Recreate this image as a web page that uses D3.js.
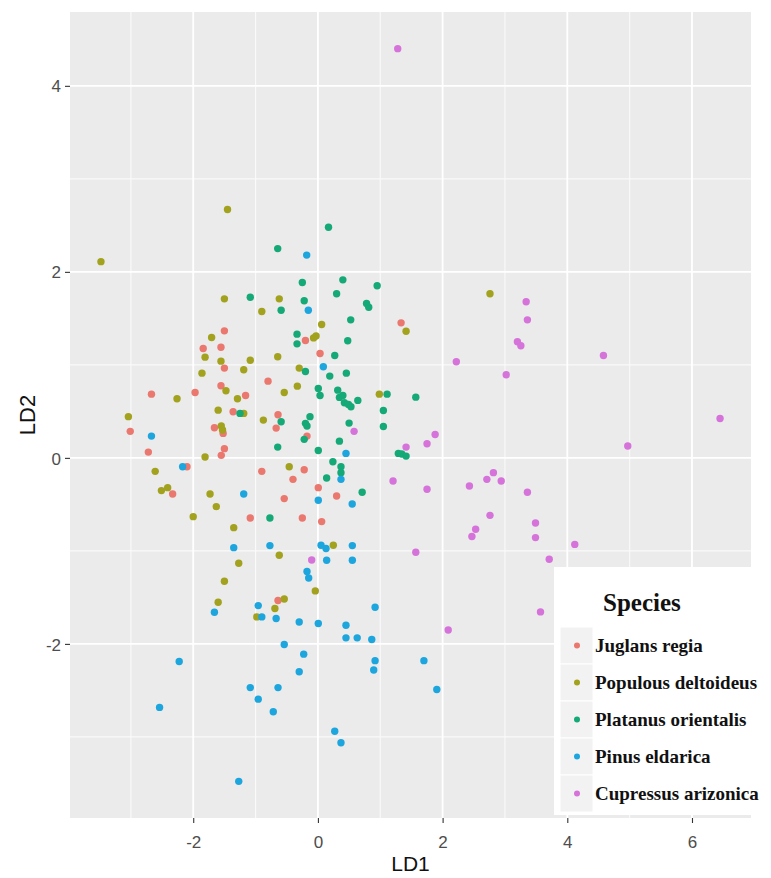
<!DOCTYPE html>
<html>
<head>
<meta charset="utf-8">
<script src="https://cdn.jsdelivr.net/npm/d3@7"></script>
<style>
  html, body { margin: 0; padding: 0; background: #ffffff; }
  svg { display: block; }
</style>
</head>
<body>
<div id="chart"></div>
<script>
// ---------------- data (LD1, LD2) ----------------
const species = ["Juglans regia", "Populous deltoideus", "Platanus orientalis", "Pinus eldarica", "Cupressus arizonica"];
const colors = ["#EA786F", "#A2A21E", "#15A977", "#1DA6DE", "#D673DA"];

const juglansLD1 = [-1.50,-1.84,-1.555,-1.50,-0.20,0.034,1.334,-0.80,-1.555,-1.97,-2.67,-1.16,-1.36,-3.01,-2.72,-1.66,-1.52,-1.50,-1.55,-0.64,-0.67,-0.175,-2.10,-2.33,-1.085,-0.25,-0.90,-0.22,-0.40,-0.54,0.006,0.30,0.06,-0.64];
const juglansLD2 = [1.366,1.176,1.19,0.965,1.262,1.122,1.452,0.825,0.775,0.703,0.685,0.671,0.496,0.285,0.062,0.324,0.263,0.099,0.027,0.464,0.32,0.234,-0.095,-0.389,-0.647,-0.647,-0.145,-0.127,-0.231,-0.438,-0.32,-0.41,-0.685,-1.534];

const populusLD1 = [-3.48,-1.45,-1.50,-0.62,-0.90,-1.705,-1.81,-1.555,-1.085,-0.645,-1.86,-1.19,-0.07,-0.03,0.06,-0.30,-0.33,-0.54,-1.475,-2.26,-1.29,-1.60,-1.19,-3.04,-1.55,-1.53,-1.81,-0.875,1.414,2.76,0.985,-2.61,-2.51,-2.41,-1.73,-1.63,-2.0,-1.35,-0.46,-0.62,-1.27,-1.50,-0.042,-1.60,-0.54,-0.69,-0.98,0.247];
const populusLD2 = [2.11,2.67,1.71,1.71,1.574,1.294,1.083,1.04,1.05,1.087,0.911,0.947,1.29,1.31,1.434,0.965,0.771,0.703,0.722,0.636,0.636,0.513,0.478,0.443,0.342,0.30,0.009,0.406,1.362,1.764,0.685,-0.145,-0.352,-0.32,-0.389,-0.524,-0.632,-0.75,-0.095,-1.047,-1.133,-1.327,-1.43,-1.552,-1.517,-1.62,-1.71,-0.94];

const platanusLD1 = [-0.645,0.17,0.40,-1.085,-0.59,-0.25,-0.22,-0.335,-0.335,-0.20,-1.25,-0.59,-0.645,-0.127,-0.20,-0.175,-0.22,0.006,-0.77,0.95,0.30,0.78,0.815,0.526,0.478,0.27,0.19,0.456,0.006,0.034,0.318,0.345,0.40,0.425,0.49,0.53,0.64,1.11,1.57,1.05,1.05,0.50,0.345,1.29,1.345,1.414,0.24,0.37,0.37,0.14,0.71];
const platanusLD2 = [2.25,2.48,1.914,1.727,1.588,1.885,1.69,1.33,1.226,0.929,0.478,0.389,0.116,0.443,0.371,0.342,0.199,0.08,-0.647,1.85,1.764,1.66,1.62,1.484,1.259,1.10,0.879,0.911,0.746,0.671,0.728,0.65,0.671,0.593,0.575,0.55,0.618,0.685,0.653,0.51,0.338,0.374,0.18,0.048,0.041,0.019,-0.041,-0.095,-0.159,-0.217,-0.37];

const pinusLD1 = [-0.18,-0.154,0.087,-2.67,-2.17,-1.19,0.006,0.45,0.37,0.55,-1.35,-0.77,0.05,0.13,0.552,0.14,0.552,-0.175,-0.148,-1.66,-0.957,-0.90,-0.67,-0.30,0.006,-0.54,-0.228,-0.30,-2.225,-1.085,-0.64,-0.957,-0.716,-2.54,-1.27,0.917,0.45,0.45,0.63,0.864,0.917,0.895,1.70,1.907,0.27,0.37];
const pinusLD2 = [2.18,1.588,0.98,0.234,-0.095,-0.389,-0.456,0.048,-0.231,-0.496,-0.965,-0.943,-0.94,-0.975,-0.943,-1.10,-1.10,-1.222,-1.291,-1.66,-1.588,-1.71,-1.727,-1.764,-1.78,-2.006,-2.11,-2.30,-2.19,-2.47,-2.47,-2.594,-2.73,-2.683,-3.478,-1.606,-1.80,-1.935,-1.935,-1.953,-2.18,-2.28,-2.18,-2.49,-2.94,-3.063];

const cupressusLD1 = [1.28,3.34,3.36,3.20,3.255,2.22,3.02,0.58,1.88,1.75,1.414,1.205,1.75,2.43,2.71,2.815,2.94,3.36,2.76,3.49,2.53,2.47,3.49,4.58,6.45,4.97,4.12,3.71,-0.10,1.57,3.57,2.09];
const cupressusLD2 = [4.40,1.678,1.484,1.248,1.205,1.033,0.894,0.285,0.252,0.152,0.116,-0.249,-0.338,-0.303,-0.231,-0.159,-0.249,-0.37,-0.618,-0.70,-0.768,-0.846,-0.857,1.10,0.424,0.127,-0.93,-1.09,-1.098,-1.015,-1.656,-1.85];

const xTicks = [-2, 0, 2, 4, 6];
const yTicks = [-2, 0, 2, 4];
const xTitle = "LD1", yTitle = "LD2", legendTitle = "Species";

// ---------------- build ----------------
const seriesLD1 = [juglansLD1, populusLD1, platanusLD1, pinusLD1, cupressusLD1];
const seriesLD2 = [juglansLD2, populusLD2, platanusLD2, pinusLD2, cupressusLD2];
const points = [];
species.forEach((s, i) => seriesLD1[i].forEach((v, j) => points.push({sp: i, x: v, y: seriesLD2[i][j]})));

const W = 771, H = 878;
const panel = {left: 70, right: 751, top: 12, bottom: 818};

function expand(ext) { const d = (ext[1] - ext[0]) * 0.05; return [ext[0] - d, ext[1] + d]; }
const x = d3.scaleLinear().domain(expand(d3.extent(points, d => d.x))).range([panel.left, panel.right]);
const y = d3.scaleLinear().domain(expand(d3.extent(points, d => d.y))).range([panel.bottom, panel.top]);

const svg = d3.select("#chart").append("svg").attr("width", W).attr("height", H);
svg.append("rect").attr("width", W).attr("height", H).attr("fill", "#ffffff");

svg.append("rect")
  .attr("x", panel.left).attr("y", panel.top)
  .attr("width", panel.right - panel.left).attr("height", panel.bottom - panel.top)
  .attr("fill", "#EBEBEB");

// grid
const xMinor = d3.range(-3, 7, 2), yMinor = d3.range(-3, 5, 2);
const grid = svg.append("g");
grid.selectAll(".xm").data(xMinor).join("line")
  .attr("x1", d => x(d)).attr("x2", d => x(d)).attr("y1", panel.top).attr("y2", panel.bottom)
  .attr("stroke", "#fafafa").attr("stroke-width", 1.1);
grid.selectAll(".ym").data(yMinor).join("line")
  .attr("y1", d => y(d)).attr("y2", d => y(d)).attr("x1", panel.left).attr("x2", panel.right)
  .attr("stroke", "#fafafa").attr("stroke-width", 1.1);
grid.selectAll(".xM").data(xTicks).join("line")
  .attr("x1", d => x(d)).attr("x2", d => x(d)).attr("y1", panel.top).attr("y2", panel.bottom)
  .attr("stroke", "#ffffff").attr("stroke-width", 1.8);
grid.selectAll(".yM").data(yTicks).join("line")
  .attr("y1", d => y(d)).attr("y2", d => y(d)).attr("x1", panel.left).attr("x2", panel.right)
  .attr("stroke", "#ffffff").attr("stroke-width", 1.8);

// axes
const fmt = d => String(d);
const xAxis = svg.append("g").attr("transform", `translate(0,${panel.bottom})`)
  .call(d3.axisBottom(x).tickValues(xTicks).tickSize(5).tickPadding(4).tickFormat(fmt));
const yAxis = svg.append("g").attr("transform", `translate(${panel.left},0)`)
  .call(d3.axisLeft(y).tickValues(yTicks).tickSize(5).tickPadding(4).tickFormat(fmt));
[xAxis, yAxis].forEach(a => {
  a.select(".domain").remove();
  a.selectAll(".tick line").attr("stroke", "#333333").attr("stroke-width", 1.1);
  a.selectAll(".tick text").attr("fill", "#4D4D4D")
    .style("font-family", "'Liberation Sans', Arial, sans-serif").style("font-size", "17px");
});
xAxis.selectAll(".tick text").attr("dy", null).attr("y", 30);
yAxis.selectAll(".tick text").attr("dy", "0.36em");

svg.append("text").attr("x", (panel.left + panel.right) / 2).attr("y", 871)
  .attr("text-anchor", "middle").attr("fill", "#111")
  .style("font-family", "'Liberation Sans', Arial, sans-serif").style("font-size", "21px")
  .text(xTitle);
svg.append("text").attr("transform", `translate(35,${(panel.top + panel.bottom) / 2}) rotate(-90)`)
  .attr("text-anchor", "middle").attr("fill", "#111")
  .style("font-family", "'Liberation Sans', Arial, sans-serif").style("font-size", "22px")
  .text(yTitle);

// points
svg.append("g").selectAll("circle").data(points).join("circle")
  .attr("cx", d => x(d.x)).attr("cy", d => y(d.y)).attr("r", 3.7)
  .attr("fill", d => colors[d.sp]);

// legend
const lg = svg.append("g");
lg.append("rect").attr("x", 554).attr("y", 567).attr("width", W - 554).attr("height", 248).attr("fill", "#ffffff");
lg.append("text").attr("x", 603).attr("y", 611).attr("fill", "#111")
  .style("font-family", "'Liberation Serif', 'Times New Roman', serif").style("font-weight", "bold").style("font-size", "25px")
  .text(legendTitle);
const rowH = 37;
species.forEach((s, i) => {
  const top = 627 + i * rowH;
  lg.append("rect").attr("x", 560).attr("y", top).attr("width", 33).attr("height", rowH)
    .attr("fill", "#F2F2F2").attr("stroke", "#ffffff").attr("stroke-width", 1);
  lg.append("circle").attr("cx", 577).attr("cy", top + rowH / 2).attr("r", 3).attr("fill", colors[i]);
  lg.append("text").attr("x", 595).attr("y", top + rowH / 2 + 6).attr("fill", "#111")
    .style("font-family", "'Liberation Serif', 'Times New Roman', serif").style("font-weight", "bold").style("font-size", "19px")
    .text(s);
});
</script>
</body>
</html>
